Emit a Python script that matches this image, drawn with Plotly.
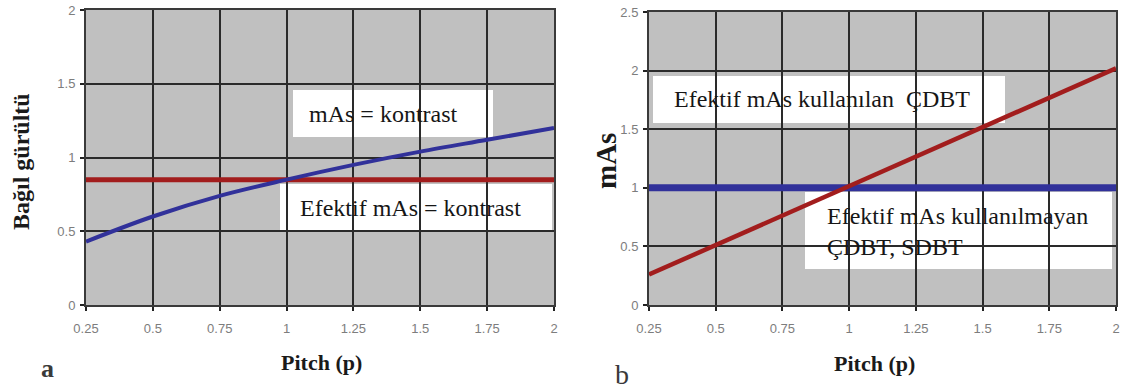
import plotly.graph_objects as go

# ---------------- data ----------------
pitch = [0.25, 0.5, 0.75, 1.0, 1.25, 1.5, 1.75, 2.0]
# panel a : relative noise
noise_mas_kontrast = [0.43, 0.60, 0.74, 0.85, 0.95, 1.04, 1.12, 1.20]
noise_efektif = [0.85, 0.85, 0.85, 0.85, 0.85, 0.85, 0.85, 0.85]
# panel b : mAs
mas_efektif_cdbt = [0.26, 0.51, 0.76, 1.01, 1.26, 1.51, 1.76, 2.02]
mas_sabit = [1.0, 1.0, 1.0, 1.0, 1.0, 1.0, 1.0, 1.0]

x_ticks = [0.25, 0.5, 0.75, 1, 1.25, 1.5, 1.75, 2]
x_tick_text = ["0.25", "0.5", "0.75", "1", "1.25", "1.5", "1.75", "2"]
ya_ticks = [0, 0.5, 1, 1.5, 2]
ya_tick_text = ["0", "0.5", "1", "1.5", "2"]
yb_ticks = [0, 0.5, 1, 1.5, 2, 2.5]
yb_tick_text = ["0", "0.5", "1", "1.5", "2", "2.5"]

W, H = 1138, 390
RED = "#a21d1d"
BLUE = "#31319a"
SERIF = "Liberation Serif, Times New Roman, serif"
SANS = "Liberation Sans, Arial, sans-serif"


def px(x):
    return x / W


def py(y):
    return 1 - y / H


fig = go.Figure()
fig.add_trace(go.Scatter(x=pitch, y=noise_efektif, mode="lines",
                         line=dict(color=RED, width=5), xaxis="x", yaxis="y",
                         showlegend=False, hoverinfo="skip"))
fig.add_trace(go.Scatter(x=pitch, y=noise_mas_kontrast, mode="lines",
                         line=dict(color=BLUE, width=4, shape="spline"), xaxis="x", yaxis="y",
                         showlegend=False, hoverinfo="skip"))
fig.add_trace(go.Scatter(x=pitch, y=mas_sabit, mode="lines",
                         line=dict(color=BLUE, width=7), xaxis="x2", yaxis="y2",
                         showlegend=False, hoverinfo="skip"))
fig.add_trace(go.Scatter(x=pitch, y=mas_efektif_cdbt, mode="lines",
                         line=dict(color=RED, width=4.5), xaxis="x2", yaxis="y2",
                         showlegend=False, hoverinfo="skip"))

axis_common = dict(
    showgrid=True, gridcolor="#2a2a2a", gridwidth=2,
    showline=True, linecolor="#3a3a3a", linewidth=2, mirror=True,
    ticks="outside", ticklen=4, tickwidth=2, tickcolor="#222",
    tickfont=dict(family=SANS, size=13, color="#7d7d7d"),
    zeroline=False, fixedrange=True, automargin=False,
)

fig.update_layout(
    width=W, height=H,
    margin=dict(l=0, r=0, t=0, b=0, pad=0, autoexpand=False),
    paper_bgcolor="white",
    plot_bgcolor="#c0c0c0",
    xaxis=dict(domain=[px(86), px(554)], range=[0.25, 2], tickvals=x_ticks,
               ticktext=x_tick_text, anchor="y", ticklabelstandoff=6, **axis_common),
    yaxis=dict(domain=[py(305), py(10)], range=[0, 2], tickvals=ya_ticks,
               ticktext=ya_tick_text, anchor="x", ticklabelstandoff=2, **axis_common),
    xaxis2=dict(domain=[px(649), px(1116)], range=[0.25, 2], tickvals=x_ticks,
                ticktext=x_tick_text, anchor="y2", ticklabelstandoff=6, **axis_common),
    yaxis2=dict(domain=[py(305), py(12)], range=[0, 2.5], tickvals=yb_ticks,
                ticktext=yb_tick_text, anchor="x2", ticklabelstandoff=2, **axis_common),
)

# white label boxes (above gridlines, below data lines)
boxes = [
    (293, 90, 493, 137),
    (280, 184, 552, 230),
    (653, 76, 1005, 123),
    (805, 192, 1112, 269),
]
for x0, y0, x1, y1 in boxes:
    fig.add_shape(type="rect", xref="paper", yref="paper",
                  x0=px(x0), x1=px(x1), y0=py(y1), y1=py(y0),
                  fillcolor="white", line=dict(width=0), layer="between")

box_font = dict(family=SERIF, size=24, color="#161616")
texts = [
    ("mAs = kontrast", 307, 114),
    ("Efektif mAs = kontrast", 298, 208),
    ("Efektif mAs kullanılan\u00a0\u00a0ÇDBT", 672, 99),
    ("Efektif mAs kullanılmayan<br>ÇDBT, SDBT", 825, 231),
]
for t, x, y in texts:
    fig.add_annotation(text=t, xref="paper", yref="paper", x=px(x), y=py(y),
                       xanchor="left", yanchor="middle", showarrow=False,
                       font=box_font, align="left")

title_font = dict(family=SERIF, size=22, color="#1a1a1a")
fig.add_annotation(text="<b>Pitch (p)</b>", xref="paper", yref="paper",
                   x=px(321), y=py(362), xanchor="center", yanchor="middle",
                   showarrow=False, font=title_font)
fig.add_annotation(text="<b>Pitch (p)</b>", xref="paper", yref="paper",
                   x=px(875), y=py(363), xanchor="center", yanchor="middle",
                   showarrow=False, font=title_font)
fig.add_annotation(text="<b>Bağıl gürültü</b>", xref="paper", yref="paper",
                   x=px(21), y=py(162), xanchor="center", yanchor="middle",
                   showarrow=False, textangle=-90,
                   font=dict(family=SERIF, size=24, color="#1a1a1a"))
fig.add_annotation(text="<b>mAs</b>", xref="paper", yref="paper",
                   x=px(606), y=py(161), xanchor="center", yanchor="middle",
                   showarrow=False, textangle=-90,
                   font=dict(family=SERIF, size=29, color="#1a1a1a"))
fig.add_annotation(text="<b>a</b>", xref="paper", yref="paper",
                   x=px(47), y=py(368), xanchor="center", yanchor="middle",
                   showarrow=False, font=dict(family=SERIF, size=26, color="#3a3a3a"))
fig.add_annotation(text="b", xref="paper", yref="paper",
                   x=px(622), y=py(374), xanchor="center", yanchor="middle",
                   showarrow=False, font=dict(family=SERIF, size=28, color="#3a3a3a"))

fig.write_html("out.html", config={"displayModeBar": False})
